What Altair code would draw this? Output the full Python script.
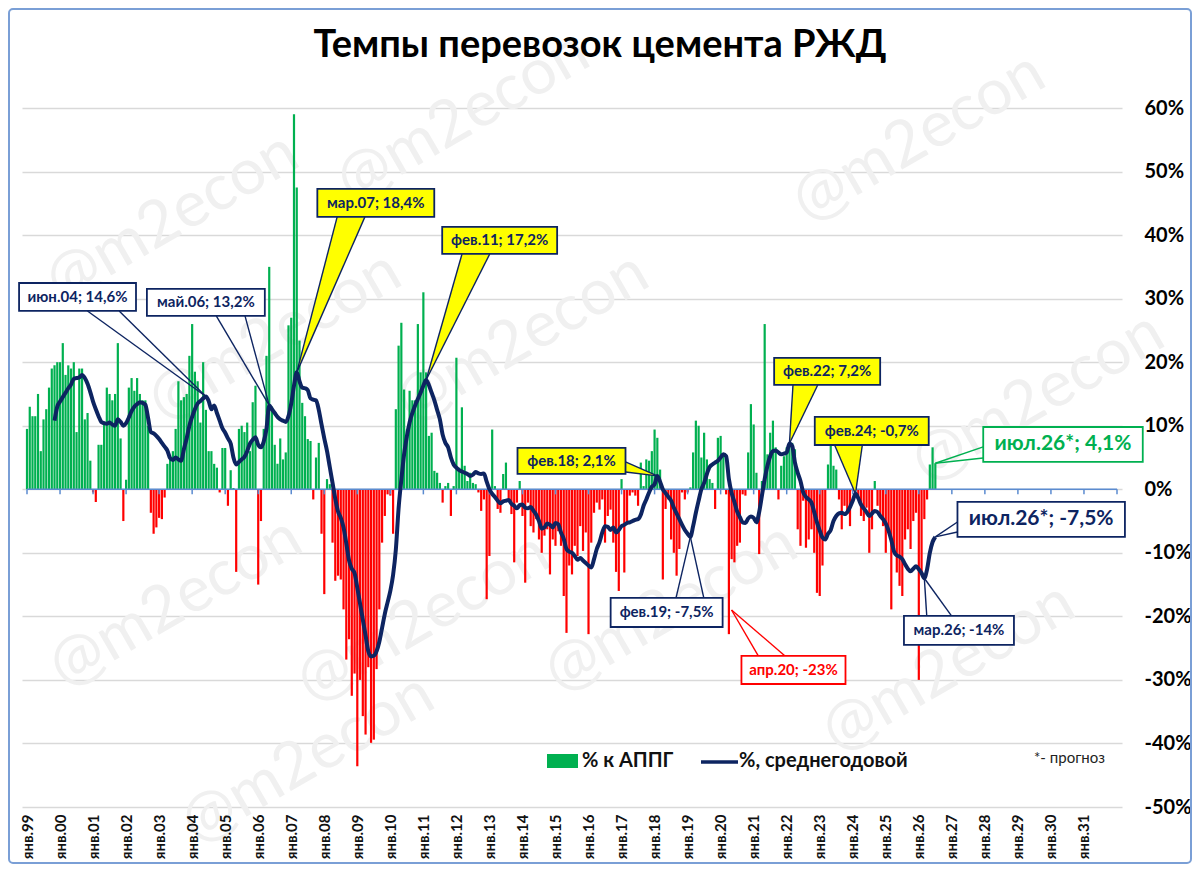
import altair as alt
import pandas as pd

# ---------------- data ----------------
FIRST_YEAR = 1999
# % к АППГ, monthly, Jan 1999 .. Jul 2026
yoy_pct = [
    9.5, 13, 11.5, 11.5, 15, 6, 11, 12.6, 16, 19, 19.5, 20,              # 1999
    20, 23, 18, 19.5, 19, 20, 9, 19, 19, 11, 12, 4.5,                    # 2000
    -0.5, -2, 7, 7, 10.5, 16, 15, 14, 15, 23, 8, -5,                     # 2001
    1.5, 16, 17.5, 15.5, 17.5, 15, 14, 14, 10, -3.7, -7, -6,             # 2002
    -4.5, -4.7, -1.3, 4, 4.7, 6, 9.5, 17, 14, 14.5, 15, 21,              # 2003
    26, 18.5, 17, 10.5, 20, 12.5, 6, 6, 4, 3.4, -0.5, 6.5,               # 2004
    6.5, -2.6, 3, 0.2, -13, 9.5, 10, 9, 10.5, 6, 13.7, 16.3,             # 2005
    -15, -5, 9.5, 21, 35, 13, 7, 4, 8, 4.7, 5.8, 25.8,                   # 2006
    27, 59, 47.5, 23.4, 13.6, 11.5, 7.9, 7.6, -1.6, 5, 7.3, -7,          # 2007
    -16.5, 1.6, 0.8, -8.4, -14.4, -13.6, -14.2, -18.9, -26.8, -23.6, -32.5, -29,   # 2008
    -43.6, -30, -35.7, -38.6, -28, -39.9, -39.4, -28.3, -18.9, -8.4, -4.2, -0.8,   # 2009
    -1, -7, 12.6, 22.6, 26.2, 15.7, 9.4, 15.5, 14, 14, 26, 18.4,         # 2010
    31, 18.4, 8.4, 8.9, 2.9, 2.6, 1, -2.1, 0.5, 1, -4.2, 0.5,            # 2011
    20.7, 3.4, 12.9, 3.7, 1.3, 2.6, 1, 0.8, -0.5, -3.4, -1.6, -17.3,     # 2012
    -10.5, 9.4, 0.5, -3.1, -3.7, 2.4, 4.2, -1.6, -3.9, -11.5, -2.1, 1.3, # 2013
    -4.2, -14.7, -2.1, -5.8, -6.8, -4.7, -7.9, -10, -7.3, -6.3, -13.4, -7.9,       # 2014
    -8.9, -6.6, -8.9, -16.8, -22.6, -12, -13.4, -8.9, -10.5, -5.8, -9.7, -6.8,     # 2015
    -22.8, -8.4, -3.7, -2.1, -3.2, -1.6, -8.4, -4.2, -3.2, -8.4, -13, -16,         # 2016
    1.6, -13.1, -5.5, -1, -0.5, -1, -2.6, 4.2, 0.5, 4.7, 4.5, 6,         # 2017
    9.4, 8.1, 3.1, -14.2, -3.1, -1.6, -7.9, -10, -13.6, -9.4, -0.5, -1.6,# 2018
    -0.5, 0.3, 5.8, 10.8, 10, 5, 8.9, 4.7, 1.6, 1, -3.1, 8.1,            # 2019
    8.4, 5.5, -0.8, -22.8, -11, -11.5, -8.9, -8.4, -0.8, -1, 5.8, 13.4,  # 2020
    10.2, 2.6, -10.2, 1.3, 26, 5.5, 8.9, 10.8, 6.6, -1.6, 3.7, 5.2,      # 2021
    6.6, 7.3, 7.3, 6.3, -6.3, -8.9, -1.8, -9.2, -7.9, -6.3, -10, -16.3,  # 2022
    -16.8, -12, -8.1, 3.9, 8.4, 3.7, 3.1, -1.6, -6.3, -2.6, -3.7, -5.8,  # 2023
    -0.3, 0.4, -1.6, -4.2, -5, -2.9, -10, -6.3, 1.3, -2.6, -4.5, -5.8,   # 2024
    -10, -6.8, -18.9, -9.4, -13.1, -15.2, -16.8, -7.9, -6.3, -9.4, -5, -3.7,       # 2025
    -30, -13.1, -4.7, -1.6, 3.9, 6.6, 4.1,                               # 2026 (Jan..Jul)
]

# %, среднегодовой, monthly, Nov 1999 .. Jul 2026
AVG_FIRST_MONTH = 10
avg_pct = [
    10.8, 13.0,                                                          # 1999
    13.8, 14.5, 15.2, 15.9, 16.5, 17.4, 17.5, 17.6, 18.0, 17.5, 16.6, 15.3,
    13.8, 12.6, 11.5, 10.6, 10.4, 10.3, 10.5, 10.2, 10.0, 11.0, 10.6, 10.0,
    10.4, 11.3, 12.3, 13.0, 13.4, 13.7, 13.6, 13.3, 11.2, 9.0, 8.8, 8.4,
    7.9, 7.3, 6.7, 6.1, 4.9, 4.6, 5.0, 4.7, 4.5, 6.3, 8.0, 10.0,
    11.4, 12.6, 13.5, 13.9, 14.3, 14.6, 13.9, 12.6, 13.2, 12.0, 10.8, 9.6,
    8.9, 8.0, 7.2, 5.0, 3.9, 4.3, 4.7, 5.1, 6.0, 7.2, 7.8, 8.2,
    7.0, 6.6, 7.5, 9.5, 13.2, 12.6, 12.0, 11.4, 11.0, 10.8, 10.6, 11.5,
    13.5, 16.3, 18.4, 17.0, 16.0, 15.9, 15.6, 14.3, 14.1, 14.0, 12.5, 10.2,
    8.0, 6.0, 3.5, 1.0, -1.5, -3.5, -4.5, -6.0, -8.5, -11.2, -12.5, -13.2,
    -15.5, -18.0, -20.5, -23.0, -25.5, -26.3, -26.2, -25.5, -24.0, -21.8, -19.6, -17.8,
    -16.0, -13.5, -9.5, -3.0, 1.5, 5.5, 8.3, 10.5, 12.0, 13.2, 14.2, 15.2,
    16.3, 17.2, 16.4, 15.2, 14.0, 12.5, 11.0, 8.6, 7.3, 6.6, 5.0, 3.9,
    3.4, 3.0, 2.8, 2.6, 2.4, 2.1, 2.3, 2.7, 2.5, 2.4, 2.5, 1.2,
    0.0, -0.7, -1.2, -1.8, -2.2, -1.9, -1.8, -1.7, -2.3, -2.6, -3.0, -2.5,
    -2.4, -2.9, -3.0, -2.8, -3.4, -4.0, -5.0, -6.2, -6.0, -5.4, -5.6, -6.0,
    -5.3, -5.5, -6.8, -7.8, -9.4, -9.8, -10.0, -10.5, -11.1, -10.8, -11.2, -11.6,
    -12.0, -12.3, -11.0, -9.4, -8.3, -6.8, -5.8, -5.9, -6.4, -6.0, -6.8, -6.4,
    -5.8, -5.6, -5.3, -5.2, -5.0, -4.8, -4.7, -4.0, -2.6, -1.6, -0.5, 0.4,
    0.8, 2.1, 1.2, 0.0, -0.6, -1.2, -1.8, -2.9, -3.8, -4.7, -5.6, -6.4,
    -7.0, -7.5, -5.8, -3.7, -1.8, 0.0, 1.0, 2.4, 3.5, 3.9, 4.2, 4.5,
    5.0, 5.5, 5.2, 1.6, -0.6, -2.0, -3.5, -4.4, -5.2, -5.3, -4.6, -4.3,
    -4.5, -5.2, -3.6, -1.0, 1.6, 3.7, 5.2, 6.0, 6.1, 5.8, 5.5, 5.6,
    5.8, 7.2, 6.8, 4.2, 2.6, 1.3, -0.5, -1.2, -1.6, -2.1, -3.6, -5.2,
    -6.5, -7.6, -7.9, -7.0, -6.4, -5.0, -4.2, -3.8, -3.7, -3.9, -3.6, -2.8,
    -1.8, -0.7, -1.4, -2.4, -3.0, -3.6, -4.2, -3.8, -3.4, -3.6, -4.2, -4.7,
    -5.4, -6.5, -8.0, -9.8, -10.4, -10.6, -11.0, -11.8, -12.5, -12.9, -12.5, -12.1,
    -12.6, -13.2, -14.0, -12.6, -10.0, -8.3, -7.5,                       # 2026
]

tick_years = list(range(1999, 2032))
y_ticks = list(range(-50, 61, 10))

# callouts
ann_text = ["июн.04; 14,6%", "май.06; 13,2%", "мар.07; 18,4%", "фев.11; 17,2%",
            "фев.18; 2,1%", "фев.19; -7,5%", "апр.20; -23%", "фев.22; 7,2%",
            "фев.24; -0,7%", "мар.26; -14%", "июл.26*; -7,5%", "июл.26*; 4,1%"]
ann_kind = ["navy", "navy", "yellow", "yellow", "yellow", "navy", "red",
            "yellow", "yellow", "navy", "navy_big", "green_big"]
box_x1 = [1998.76, 2002.63, 2007.79, 2011.57, 2013.85, 2016.67, 2020.63, 2021.62, 2022.85, 2025.55, 2027.17, 2027.95]
box_x2 = [2002.30, 2006.20, 2011.33, 2015.05, 2017.12, 2020.06, 2023.78, 2024.83, 2026.30, 2028.88, 2032.24, 2032.78]
box_y1 = [28.06, 27.28, 42.87, 37.03, 2.41, -21.67, -30.64, 16.42, 6.97, -24.5, -7.5, 4.3]
box_y2 = [32.46, 31.53, 47.27, 41.28, 6.5, -17.1, -26.23, 20.67, 11.38, -19.93, -1.99, 9.8]
tip_x = [2004.417, 2006.333, 2007.167, 2011.083, 2018.083, 2019.083, 2020.33, 2022.083, 2024.083, 2026.167, 2026.5, 2026.5]
tip_y = [14.6, 13.2, 18.4, 17.2, 2.1, -7.5, -19.0, 7.2, -0.7, -14.0, -7.5, 4.1]
base_ax = [2000.83, 2004.73, 2008.39, 2012.17, 2017.12, 2018.65, 2021.14, 2022.19, 2023.45, 2026.24, 2027.17, 2027.95]
base_ay = [28.06, 27.28, 42.87, 37.03, 4.3, -17.1, -26.23, 16.42, 6.97, -19.93, -5.15, 6.66]
base_bx = [2001.79, 2005.60, 2009.23, 2013.01, 2017.12, 2019.49, 2021.95, 2022.94, 2024.29, 2026.99, 2027.17, 2027.95]
base_by = [28.06, 27.28, 42.87, 37.03, 2.72, -17.1, -26.23, 16.42, 6.97, -19.93, -6.72, 4.93]

# faint watermark placements (years / %)
wm_t = [2012.2, 2026.0, 2003.4, 2006.5, 2014.0, 2029.6, 2003.5, 2011.0, 2018.5, 2026.9, 2007.5]
wm_v = [58.5, 55.3, 42.7, 24.0, 23.8, 14.4, -17.9, -20.3, -18.7, -28.1, -42.5]

# ---------------- styles ----------------
NAVY = "#0d2461"
GREEN = "#00b050"
RED = "#ff0000"
YELLOW = "#ffff00"
AXBLUE = "#5b8bd0"
FONT = "Lato"

kind_fill = {"navy": "white", "yellow": YELLOW, "red": "white", "navy_big": "white", "green_big": "white"}
kind_stroke = {"navy": NAVY, "yellow": NAVY, "red": RED, "navy_big": NAVY, "green_big": GREEN}
kind_size = {"navy": 15, "yellow": 15, "red": 15, "navy_big": 21, "green_big": 21}

XS = alt.Scale(domain=[1999, 2032], nice=False, zero=False)
YS = alt.Scale(domain=[-50, 60], nice=False, zero=False)

bars = pd.DataFrame({"t": [FIRST_YEAR + i / 12 for i in range(len(yoy_pct))], "v": yoy_pct})
line = pd.DataFrame({"t": [FIRST_YEAR + (AVG_FIRST_MONTH + i) / 12 for i in range(len(avg_pct))], "v": avg_pct})

boxes = pd.DataFrame({
    "x1": box_x1, "x2": box_x2, "y1": box_y1, "y2": box_y2, "text": ann_text,
    "tx": [(a + b) / 2 for a, b in zip(box_x1, box_x2)],
    "ty": [(a + b) / 2 for a, b in zip(box_y1, box_y2)],
    "fill": [kind_fill[k] for k in ann_kind],
    "stroke": [kind_stroke[k] for k in ann_kind],
    "fs": [kind_size[k] for k in ann_kind],
})

seg_rows = []
for i in range(len(ann_text)):
    c = kind_stroke[ann_kind[i]]
    seg_rows.append({"x": base_ax[i], "y": base_ay[i], "x2": tip_x[i], "y2": tip_y[i], "c": c})
    seg_rows.append({"x": base_bx[i], "y": base_by[i], "x2": tip_x[i], "y2": tip_y[i], "c": c})
segs = pd.DataFrame(seg_rows)

wedge_v = []
wedge_h = []
for i in range(len(ann_text)):
    if ann_kind[i] != "yellow":
        continue
    if base_ay[i] == base_by[i]:
        wedge_v.append({"id": i, "y": base_ay[i], "x": base_ax[i], "x2": base_bx[i]})
        wedge_v.append({"id": i, "y": tip_y[i], "x": tip_x[i], "x2": tip_x[i]})
    else:
        wedge_h.append({"id": i, "x": base_ax[i], "y": base_ay[i], "y2": base_by[i]})
        wedge_h.append({"id": i, "x": tip_x[i], "y": tip_y[i], "y2": tip_y[i]})
wedge_v = pd.DataFrame(wedge_v)
wedge_h = pd.DataFrame(wedge_h)

zero_df = pd.DataFrame({"a": [1999], "b": [2032], "v": [0]})
ticks_df = pd.DataFrame({"t": tick_years + [2032], "y0": 0, "y1": -0.8})
wm = pd.DataFrame({"t": wm_t, "v": wm_v, "s": "@m2econ"})

X_AX = alt.Axis(
    values=tick_years, title=None, grid=False, domain=False, ticks=False, zindex=1,
    labelExpr="'янв.' + substring(toString(datum.value), 2, 4)",
    labelAngle=270, labelFont=FONT, labelFontSize=15, labelFontWeight="bold",
    labelColor="#111111", labelPadding=7, labelOverlap=False, labelFlush=False, labelBound=False)
Y_AX = alt.Axis(
    orient="right", values=y_ticks, title=None, domain=False, ticks=False,
    labelExpr="datum.value + '%'", labelFont=FONT, labelFontSize=20, labelFontWeight="bold",
    labelColor="black", labelAlign="left", labelPadding=22,
    grid=True, gridColor="#d9d9d9", gridWidth=1.5)


def X(f):
    return alt.X(f, scale=XS, axis=X_AX)


def Y(f):
    return alt.Y(f, scale=YS, axis=Y_AX)


# ---------------- layers ----------------
watermark = alt.Chart(wm).mark_text(font=FONT, fontSize=64, angle=330, color="#f0f0f0").encode(
    x=X("t:Q"), y=Y("v:Q"), text="s:N")

bar_layer = alt.Chart(bars).mark_bar(size=2.2).encode(
    x=X("t:Q"), y=Y("v:Q"),
    color=alt.condition("datum.v >= 0", alt.value(GREEN), alt.value(RED)),
)

zero_layer = alt.Chart(zero_df).mark_rule(color=AXBLUE, strokeWidth=1.5).encode(
    x=X("a:Q"), x2="b:Q", y=Y("v:Q"))
tick_layer = alt.Chart(ticks_df).mark_rule(color=AXBLUE, strokeWidth=1.5).encode(
    x=X("t:Q"), y=Y("y0:Q"), y2="y1:Q")

line_layer = alt.Chart(line).mark_line(color=NAVY, strokeWidth=4, interpolate="monotone").encode(
    x=X("t:Q"), y=Y("v:Q"))

wedge_v_layer = alt.Chart(wedge_v).mark_area(orient="horizontal", color=YELLOW, opacity=1).encode(
    y=Y("y:Q"), x=X("x:Q"), x2="x2:Q", detail="id:N")
wedge_h_layer = alt.Chart(wedge_h).mark_area(orient="vertical", color=YELLOW, opacity=1).encode(
    x=X("x:Q"), y=Y("y:Q"), y2="y2:Q", detail="id:N")

seg_layer = alt.Chart(segs).mark_rule(strokeWidth=1.4).encode(
    x=X("x:Q"), y=Y("y:Q"), x2="x2:Q", y2="y2:Q", color=alt.Color("c:N", scale=None))

box_layer = alt.Chart(boxes).mark_rect(strokeWidth=1.8).encode(
    x=X("x1:Q"), x2="x2:Q", y=Y("y1:Q"), y2="y2:Q",
    fill=alt.Fill("fill:N", scale=None), stroke=alt.Stroke("stroke:N", scale=None))
box_text = alt.Chart(boxes).mark_text(font=FONT, fontWeight="bold").encode(
    x=X("tx:Q"), y=Y("ty:Q"),
    text="text:N", color=alt.Color("stroke:N", scale=None), size=alt.Size("fs:Q", scale=None))

one = pd.DataFrame({"k": [0]})
title_layer = alt.Chart(one).mark_text(
    font=FONT, fontSize=38, fontWeight="bold", color="black", text="Темпы перевозок цемента РЖД").encode(
    x=alt.value(578), y=alt.value(-62))

leg_sw = alt.Chart(one).mark_rect(color=GREEN).encode(
    x=alt.value(525), x2=alt.value(556), y=alt.value(646), y2=alt.value(660))
leg_ln = alt.Chart(one).mark_rule(color=NAVY, strokeWidth=3.5).encode(
    x=alt.value(679), x2=alt.value(716), y=alt.value(654))
leg_t1 = alt.Chart(one).mark_text(font=FONT, fontSize=20, fontWeight="bold", align="left",
                                  color="#111111", text="% к АППГ").encode(
    x=alt.value(560), y=alt.value(653))
leg_t2 = alt.Chart(one).mark_text(font=FONT, fontSize=20, fontWeight="bold", align="left",
                                  color="#111111", text="%, среднегодовой").encode(
    x=alt.value(717), y=alt.value(653))
note_txt = alt.Chart(one).mark_text(font=FONT, fontSize=15, align="left", color="#222222",
                                    text="*- прогноз").encode(
    x=alt.value(1012), y=alt.value(650))

border = alt.Chart(one).mark_rect(
    fillOpacity=0, stroke="#7a9fd6", strokeWidth=2, cornerRadius=4).encode(
    x=alt.value(-13), x2=alt.value(1169), y=alt.value(-99), y2=alt.value(755))

chart = alt.layer(
    watermark, bar_layer, zero_layer, tick_layer, line_layer,
    wedge_v_layer, wedge_h_layer, seg_layer, box_layer, box_text,
    title_layer, leg_sw, leg_ln, leg_t1, leg_t2, note_txt, border,
).properties(
    width=1100, height=699,
    padding={"left": 14, "top": 100, "right": 70, "bottom": 57},
    autosize=alt.AutoSizeParams(type="none"),
    background="white",
).configure_view(stroke=None)

chart.save("out.html", embed_options={"renderer": "svg", "actions": False})
